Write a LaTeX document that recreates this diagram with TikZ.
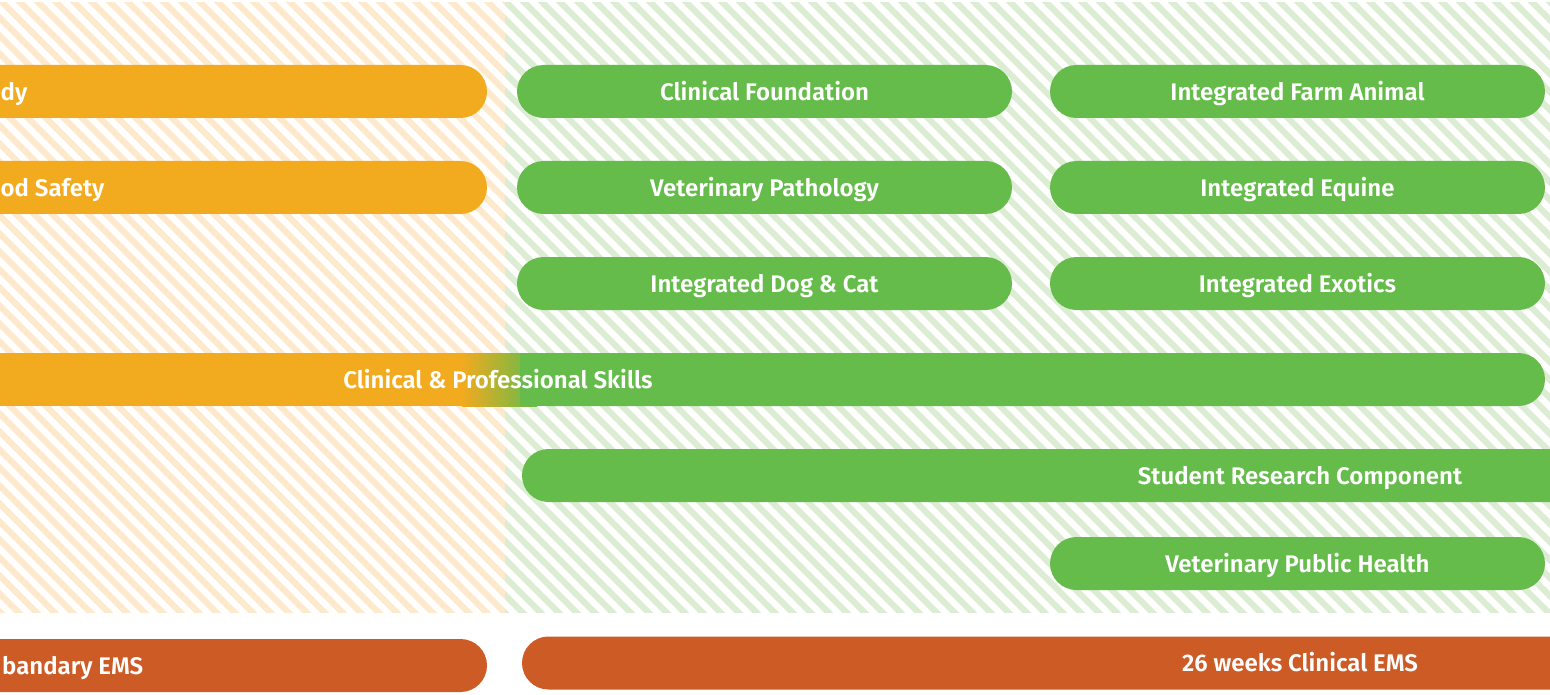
\documentclass[tikz,border=0pt]{standalone}
\usepackage{fontspec}
\IfFontExistsTF{Fira Sans SemiBold}{\setmainfont{Fira Sans}[BoldFont={Fira Sans SemiBold}]}{\setmainfont{Fira Sans}}
\definecolor{boxor}{RGB}{242,170,31}
\definecolor{boxgr}{RGB}{101,188,74}
\definecolor{boxdk}{RGB}{205,91,38}
\definecolor{strior}{RGB}{253,234,206}
\definecolor{strigr}{RGB}{221,237,213}
\tikzset{
  txt/.style={text=white, font=\bfseries\fontsize{24}{28}\selectfont, text height=20pt, text depth=2.4pt},
  pill/.style={rectangle, rounded corners=26.5pt, minimum height=53pt, inner sep=0pt, txt},
  lbl/.style={inner sep=0pt, txt},
  stripe/.style={line width=6.3pt}
}
\begin{document}
\begin{tikzpicture}[x=1pt,y=-1pt]
\useasboundingbox (0,0) rectangle (1550,695);
\clip (0,0) rectangle (1550,695);
\fill[white] (0,0) rectangle (1550,695);
% hatched backgrounds
\begin{scope}
\clip (0,3) rectangle (505,612);
\foreach \a in {-720,-702,...,600} \draw[stripe,strior] (\a,0) -- ++(720,720);
\end{scope}
\begin{scope}
\clip (505,3) rectangle (1550,612);
\foreach \a in {-216,-198,...,1600} \draw[stripe,strigr] (\a,0) -- ++(720,720);
\end{scope}
% orange column
\node[pill, fill=boxor, minimum width=887pt] (o1) at (43.5,91.5) {};
\node[lbl, anchor=west] (o1t) at (0.5,91.5) {dy};
\node[pill, fill=boxor, minimum width=887pt] (o2) at (43.5,187.5) {};
\node[lbl, anchor=west] (o2t) at (0.5,187.5) {od Safety};
% green columns
\node[pill, fill=boxgr, minimum width=495pt] (g1) at (764.5,91.5) {Clinical Foundation};
\node[pill, fill=boxgr, minimum width=495pt] (g2) at (1297.5,91.5) {Integrated Farm Animal};
\node[pill, fill=boxgr, minimum width=495pt] (g3) at (764.5,187.5) {Veterinary Pathology};
\node[pill, fill=boxgr, minimum width=495pt] (g4) at (1297.5,187.5) {Integrated Equine};
\node[pill, fill=boxgr, minimum width=495pt] (g5) at (764.5,283.5) {Integrated Dog \& Cat};
\node[pill, fill=boxgr, minimum width=495pt] (g6) at (1297.5,283.5) {Integrated Exotics};
% clinical & professional skills
\fill[boxor] (-50,353) rectangle (462,406);
\shade[left color=boxor, right color=boxgr] (462,353) rectangle (537,406);
\fill[boxgr, rounded corners=26.5pt] (520,353) -- (1545,353) -- (1545,406) -- (520,406) -- cycle;
\fill[boxgr] (520,353) rectangle (545,406);
\node[lbl] (cps) at (498,379.5) {Clinical \& Professional Skills};
% research and public health
\node[pill, fill=boxgr, minimum width=1556pt] (src) at (1300,475.5) {Student Research Component};
\node[pill, fill=boxgr, minimum width=495pt] (vph) at (1297.5,563.5) {Veterinary Public Health};
% EMS
\node[pill, fill=boxdk, minimum width=887pt] (ems1) at (43.5,665.5) {};
\node[lbl, anchor=west] (ems1t) at (2,665.5) {bandary EMS};
\node[pill, fill=boxdk, minimum width=1556pt] (ems2) at (1300,663) {26 weeks Clinical EMS};
\end{tikzpicture}
\end{document}
